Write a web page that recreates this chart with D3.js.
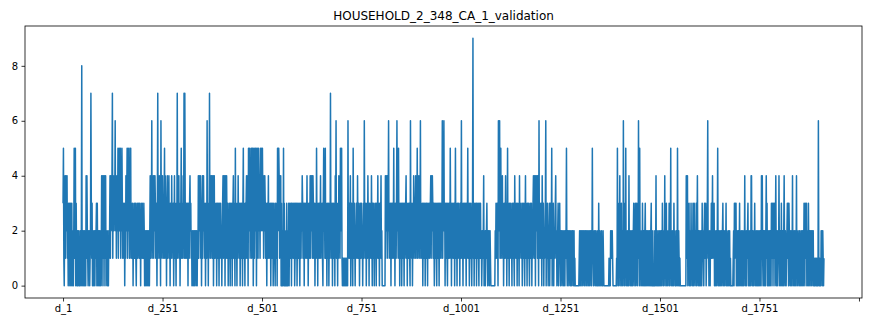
<!DOCTYPE html>
<html>
<head>
<meta charset="utf-8">
<script src="https://cdn.jsdelivr.net/npm/d3@7"></script>
<style>
  html, body { margin: 0; padding: 0; background: #fff; }
  svg { display: block; }
  text { font-family: "DejaVu Sans", sans-serif; }
</style>
</head>
<body>
<div id="chart"></div>
<script>
// ---- data (one digit per day, d_1 .. d_1913) ----
const chartTitle = "HOUSEHOLD_2_348_CA_1_validation";
const salesRows = [
  "3510241423","4120313023","0130210251","3503102012","0102102801",
  "2012012041","4210212012","7313021021","0212303102","1021021404",
  "1340413402","1201021241","4234714324","3624134251","4523514253",
  "1321302142","3514523152","5132130213","1231023123","2131203123",
  "1213201201","2012021024","1326132414","2431320371","3241306231",
  "4231351423","0341324130","3214231302","4132032713","2413023512",
  "3142717312","3123032134","2312021021","0212012021","4134241303",
  "4134231302","3162303172","3142413402","4132130231","3203123120",
  "2341424034","1421302132","0312302341","3205132031","4231302313",
  "2035132031","3413405235","1325153502","5135250354","1542315235",
  "2534142431","3203124132","1302312301","3120321305","2554142403",
  "0201503020","1030201302","3123031231","2301321302","3123103213",
  "2431230312","3124130231","2413424143","1230231523","0312312413",
  "2310352315","1320312302","3172313023","1230426132","0314231524",
  "5101101011","0101106123","1240231205","2132021321","4213202312",
  "3120231623","1302314230","3123142031","2302132031","2413203124",
  "1200000000","4134241362","3123031231","2513032136","2315230312",
  "3023132031","2341302312","3106231302","1423134142","5143414261",
  "3213023123","0231320312","3123414243","1320312310","3213203123",
  "1326132623","0312310321","3215230312","3123025132","0312312031",
  "2613203123","1320312513","2031231023","9130231230","3123103213",
  "1201212402","1021231021","2012100000","0000002132","1320623614",
  "5132413023","1241302513","2031231203","1231042312","3023120413",
  "2312031231","0241320312","3102312302","1342143042","3414206132",
  "1320421302","1236021320","2130231250","2130212341","2012302131",
  "0212012102","1021251021","2012102102","1201201000","0000000120",
  "2102120121","0212012012","1021021201","5120121021","0120103102",
  "1012010210","0000000000","0010102121","2100000000","0105120314",
  "0213021061","2031502102","1041201201","2012302130","2310316205",
  "1201203102","1023012012","0120210230","1020000201","4012010210",
  "2102103120","2140213021","0213021502","1021031201","0210510210",
  "1000000000","0000004124","0213021031","2013023102","1302410210",
  "2102103121","0231230123","6120120213","1241323021","0210251021",
  "0210210231","0210213021","0120120100","0000120313","2301201201",
  "3021021021","0214021021","2302102104","4102102130","2102102102",
  "1021042410","2102102413","0210210210","3123031230","2410210214",
  "1021031021","0241021012","3130321021","0214021021","0214021012",
  "1021012012","0132031230","2103102120","1202120101","0110101061",
  "0101021202101"
];
const xTickIdx = [0, 250, 500, 750, 1000, 1250, 1500, 1750, 2000];
const yTicks = [0, 2, 4, 6, 8];
</script>
<script>
(function () {
  const days = salesRows.join("").split("").map((c, i) => ({ day: "d_" + (i + 1), idx: i, value: +c }));
  const W = 893, H = 331;
  const mLeft = 25, mRight = 862, mTop = 26, mBottom = 298;
  const n = days.length;
  const svg = d3.select("#chart").append("svg").attr("width", W).attr("height", H);

  const x = d3.scaleLinear().domain([-0.05 * (n - 1), 1.05 * (n - 1)]).range([mLeft, mRight]);
  const yMax = d3.max(days, d => d.value);
  const pad = 0.05 * yMax;
  const y = d3.scaleLinear().domain([-pad, yMax + pad]).range([mBottom, mTop]);

  svg.append("path")
    .datum(days)
    .attr("fill", "none")
    .attr("stroke", "#1f77b4")
    .attr("stroke-width", 1.5)
    .attr("stroke-linejoin", "round")
    .attr("d", d3.line().x(d => x(d.idx)).y(d => y(d.value)));

  const xAxis = d3.axisBottom(x).tickValues(xTickIdx)
    .tickFormat(i => (i < n ? "d_" + (i + 1) : ""))
    .tickSize(3.5).tickPadding(3.5);
  const gx = svg.append("g").attr("transform", `translate(0,${mBottom})`).call(xAxis);
  const yAxis = d3.axisLeft(y).tickValues(yTicks).tickFormat(d3.format("d")).tickSize(3.5).tickPadding(3.5);
  const gy = svg.append("g").attr("transform", `translate(${mLeft},0)`).call(yAxis);
  [gx, gy].forEach(g => {
    g.select(".domain").remove();
    g.selectAll("line").attr("stroke", "#000").attr("stroke-width", 0.8);
    g.selectAll("text").attr("font-family", "DejaVu Sans").attr("font-size", 10).attr("fill", "#000");
  });

  svg.append("rect")
    .attr("x", mLeft).attr("y", mTop).attr("width", mRight - mLeft).attr("height", mBottom - mTop)
    .attr("fill", "none").attr("stroke", "#000").attr("stroke-width", 0.8);

  svg.append("text")
    .attr("x", (mLeft + mRight) / 2).attr("y", 20)
    .attr("text-anchor", "middle")
    .attr("font-size", 12)
    .attr("fill", "#000")
    .text(chartTitle);
})();
</script>
</body>
</html>
